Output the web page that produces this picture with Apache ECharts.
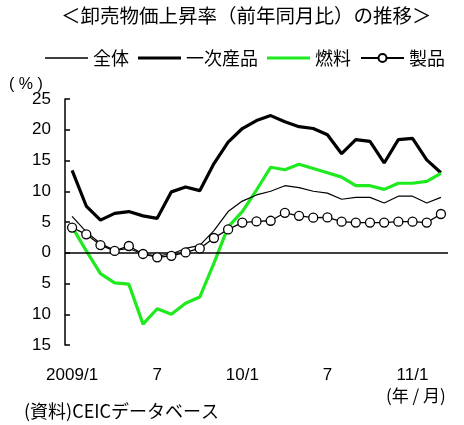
<!DOCTYPE html>
<html>
<head>
<meta charset="utf-8">
<script src="https://cdn.jsdelivr.net/npm/echarts@6/dist/echarts.min.js"></script>
<style>
html,body{margin:0;padding:0;background:#fff;}
#chart{width:464px;height:425px;}
</style>
</head>
<body>
<div id="chart"></div>
<script>
// Months 2009/1 .. 2011/3
const categories = ['2009/1','2009/2','2009/3','2009/4','2009/5','2009/6','2009/7','2009/8','2009/9','2009/10','2009/11','2009/12',
  '2010/1','2010/2','2010/3','2010/4','2010/5','2010/6','2010/7','2010/8','2010/9','2010/10','2010/11','2010/12',
  '2011/1','2011/2','2011/3'];
const tickLabels = {'2009/1':'2009/1','2009/7':'7','2010/1':'10/1','2010/7':'7','2011/1':'11/1'};

const overall  = [5.9, 3.4, 1.5, 0.4, 0.7, -0.2, -0.5, -0.2, 0.7, 1.2, 3.6, 6.7, 8.4, 9.4, 10.0, 10.9, 10.6, 10.0, 9.7, 8.7, 9.0, 9.0, 8.1, 9.2, 9.2, 8.1, 9.0];
const primary  = [13.4, 7.6, 5.3, 6.4, 6.7, 6.0, 5.6, 9.9, 10.7, 10.1, 14.5, 18.0, 20.2, 21.5, 22.3, 21.3, 20.5, 20.2, 19.2, 16.1, 18.4, 18.1, 14.6, 18.4, 18.6, 15.1, 13.0];
const fuel     = [4.2, 0.3, -3.4, -4.9, -5.1, -11.6, -9.1, -10.0, -8.2, -7.2, -1.7, 4.2, 6.7, 10.2, 13.9, 13.5, 14.4, 13.7, 13.0, 12.3, 10.9, 10.9, 10.3, 11.3, 11.3, 11.6, 12.9];
const products = [4.1, 3.0, 1.25, 0.3, 1.1, -0.2, -0.75, -0.5, 0.05, 0.7, 2.4, 3.8, 4.9, 5.1, 5.2, 6.5, 6.0, 5.7, 5.75, 5.05, 4.9, 4.9, 4.9, 5.05, 5.05, 4.9, 6.3];

const seriesNames = ['全体','一次産品','燃料','製品'];
const FONT = '"Liberation Sans", "Noto Sans CJK JP", sans-serif';
const CJK = '"Noto Sans CJK JP", "Liberation Sans", sans-serif';

const chart = echarts.init(document.getElementById('chart'));
chart.setOption({
  animation: false,
  backgroundColor: '#fff',
  title: {
    text: '＜卸売物価上昇率（前年同月比）の推移＞',
    left: 61, top: 6, padding: 0,
    textStyle: {fontFamily: CJK, fontSize: 19.5, fontWeight: 'normal', color: '#000'}
  },
  legend: {
    data: [
      {name: seriesNames[0], icon: 'path://M0,0H43V1.3H0Z'},
      {name: seriesNames[1], icon: 'path://M0,0H43V3.2H0Z'},
      {name: seriesNames[2], icon: 'path://M0,0H43V3.2H0Z'},
      {name: seriesNames[3]}
    ],
    left: 40, top: 44,
    itemWidth: 43, itemHeight: 10, itemGap: 9,
    selectedMode: false,
    textStyle: {fontFamily: CJK, fontSize: 18, color: '#000'}
  },
  grid: {left: 65, right: 16, top: 99, bottom: 80},
  xAxis: {
    type: 'category',
    data: categories,
    boundaryGap: true,
    axisLine: {show: false, onZero: false},
    axisTick: {show: false},
    axisLabel: {
      interval: 0, margin: 22,
      fontFamily: FONT, fontSize: 17, color: '#000',
      formatter: v => tickLabels[v] || ''
    },
    splitLine: {show: false}
  },
  yAxis: {
    type: 'value',
    min: -15, max: 25, interval: 5,
    axisLine: {show: true, lineStyle: {color: '#000', width: 1.5}},
    axisTick: {show: true, inside: true, length: 5, lineStyle: {color: '#000', width: 1.5}},
    axisLabel: {margin: 14, fontFamily: FONT, fontSize: 17, color: '#000', formatter: v => String(Math.abs(v))},
    splitLine: {show: false}
  },
  graphic: [
    {type: 'text', left: 9, top: 77, style: {text: '( % )', font: '16px "Liberation Sans", sans-serif', fill: '#000'}},
    {type: 'text', left: 386, top: 387, style: {text: '(年 / 月)', font: '17px "Noto Sans CJK JP", sans-serif', fill: '#000'}},
    {type: 'text', left: 24, top: 402, style: {text: '(資料)CEICデータベース', font: '18px "Noto Sans CJK JP", sans-serif', fill: '#000'}}
  ],
  series: [
    {
      name: '一次産品', type: 'line', data: primary,
      symbol: 'none', lineStyle: {color: '#000', width: 3.2}, itemStyle: {color: '#000'},
      z: 2,
      markLine: {
        silent: true, symbol: 'none', label: {show: false},
        lineStyle: {color: '#000', width: 1.5, type: 'solid'},
        data: [{yAxis: 0}]
      }
    },
    {
      name: '燃料', type: 'line', data: fuel,
      symbol: 'none', lineStyle: {color: '#1eea1e', width: 3.2}, itemStyle: {color: '#1eea1e'},
      z: 3
    },
    {
      name: '全体', type: 'line', data: overall,
      symbol: 'none', lineStyle: {color: '#000', width: 1.2}, itemStyle: {color: '#000'},
      z: 4
    },
    {
      name: '製品', type: 'line', data: products,
      symbol: 'circle', symbolSize: 9, showAllSymbol: true,
      lineStyle: {color: '#000', width: 1.3},
      itemStyle: {color: '#fff', borderColor: '#000', borderWidth: 1.3},
      z: 5
    }
  ]
});
</script>
</body>
</html>
